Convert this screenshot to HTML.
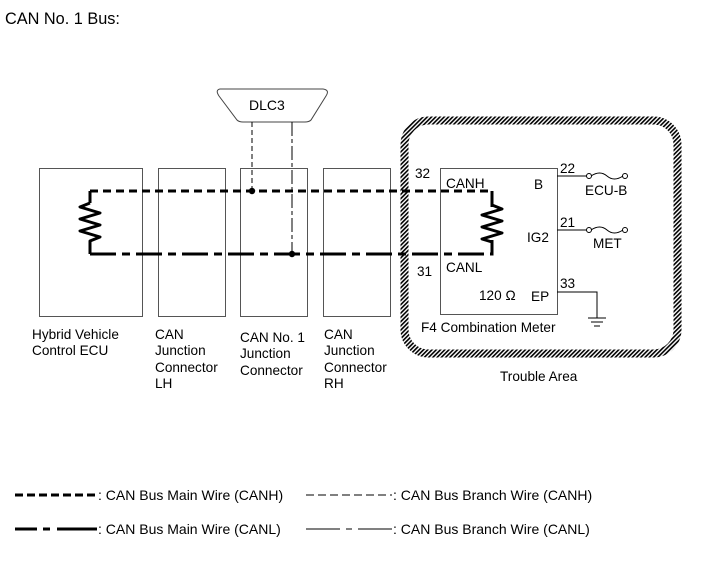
<!DOCTYPE html>
<html><head><meta charset="utf-8"><style>
html,body{margin:0;padding:0;background:#fff}
svg{display:block}
text{font-family:"Liberation Sans",Arial,sans-serif;font-size:13.6px;fill:#000}
</style></head><body>
<svg width="713" height="581" viewBox="0 0 713 581" xmlns="http://www.w3.org/2000/svg">
<defs>
<pattern id="h" width="3" height="3" patternUnits="userSpaceOnUse" patternTransform="rotate(45)">
<rect width="3" height="3" fill="#fff"/><rect width="1.6" height="3" fill="#000"/>
</pattern>
</defs>
<text x="5" y="24" style="font-size:16.3px">CAN No. 1 Bus:</text>

<path d="M220,89 L323,89 Q330,90 326,96 L311,120 Q309,122 305,122 L243,122 Q239,122 237,120 L219,96 Q215,90 220,89 Z" fill="#fff" stroke="#444" stroke-width="1"/>
<text x="249" y="110" style="font-size:14px">DLC3</text>

<g fill="none" stroke="#555" stroke-width="1">
<rect x="39.5" y="168.5" width="103" height="148"/>
<rect x="158.5" y="168.5" width="67" height="148"/>
<rect x="240.5" y="168.5" width="67" height="148"/>
<rect x="323.5" y="168.5" width="67" height="148"/>
<rect x="440.5" y="168.5" width="117" height="146"/>
</g>

<rect x="404.5" y="120.5" width="273" height="233" rx="24" fill="none" stroke="url(#h)" stroke-width="8"/>

<line x1="252" y1="122" x2="252" y2="191" stroke="#000" stroke-width="1" stroke-dasharray="5,3"/>
<line x1="292" y1="122" x2="292" y2="254" stroke="#000" stroke-width="1" stroke-dasharray="14,3,4,3"/>

<path d="M90,191 L492,191 L492,207" fill="none" stroke="#000" stroke-width="3" stroke-dasharray="8,5"/>
<path d="M90,254 L492,254 L492,240" fill="none" stroke="#000" stroke-width="3" stroke-dasharray="26,6,8,6"/>
<path d="M90,191 V203 M90,245 V254 M90,254 H100 M492,191 V205 M492,240 V254" stroke="#000" stroke-width="3" fill="none"/>
<path d="M90,203 L80,207 L100,213 L80,219 L100,225 L80,231 L100,237 L90,241 V245" fill="none" stroke="#000" stroke-width="3" stroke-linejoin="round"/>
<path d="M492,205 L502,209 L482,215 L502,221 L482,227 L502,233 L482,239 L492,242" fill="none" stroke="#000" stroke-width="3" stroke-linejoin="round"/>
<circle cx="252" cy="191" r="3.2" fill="#000"/>
<circle cx="292" cy="254" r="3.2" fill="#000"/>

<g stroke="#000" stroke-width="1" fill="none">
<line x1="557" y1="176" x2="587" y2="176"/>
<line x1="557" y1="230" x2="587" y2="230"/>
<circle cx="589" cy="176" r="2.5" fill="#fff"/><circle cx="625" cy="176" r="2.5" fill="#fff"/>
<path d="M591,176 Q600,170 607,176 Q614,182 623,176"/>
<circle cx="589" cy="230" r="2.5" fill="#fff"/><circle cx="625" cy="230" r="2.5" fill="#fff"/>
<path d="M591,230 Q600,224 607,230 Q614,236 623,230"/>
<path d="M557,292 H597 V318"/>
<line x1="588" y1="318" x2="606" y2="318"/>
<line x1="591" y1="322" x2="603" y2="322"/>
<line x1="594" y1="326" x2="600" y2="326"/>
</g>

<text x="415" y="178">32</text>
<text x="446" y="188">CANH</text>
<text x="534" y="189">B</text>
<text x="560" y="173">22</text>
<text x="585" y="195">ECU-B</text>
<text x="560" y="227">21</text>
<text x="527" y="242">IG2</text>
<text x="593" y="248">MET</text>
<text x="417" y="276">31</text>
<text x="446" y="272">CANL</text>
<text x="560" y="288">33</text>
<text x="479" y="300">120 Ω</text>
<text x="531" y="301">EP</text>
<text x="421" y="332">F4  Combination Meter</text>
<text x="500" y="381">Trouble Area</text>

<text x="32" y="339">Hybrid Vehicle</text>
<text x="32" y="355">Control ECU</text>
<text x="155" y="339">CAN</text>
<text x="155" y="355">Junction</text>
<text x="155" y="372">Connector</text>
<text x="155" y="388">LH</text>
<text x="240" y="342">CAN No. 1</text>
<text x="240" y="358">Junction</text>
<text x="240" y="375">Connector</text>
<text x="324" y="339">CAN</text>
<text x="324" y="355">Junction</text>
<text x="324" y="372">Connector</text>
<text x="324" y="388">RH</text>

<line x1="15" y1="495" x2="97" y2="495" stroke="#000" stroke-width="3" stroke-dasharray="8,4"/>
<text x="98" y="500" style="font-size:14px">: CAN Bus Main Wire (CANH)</text>
<line x1="306" y1="495" x2="392" y2="495" stroke="#000" stroke-width="1" stroke-dasharray="8,4"/>
<text x="393" y="500" style="font-size:14px">: CAN Bus Branch Wire (CANH)</text>
<path d="M15,529 H37 M43,529 H50 M57,529 H97" stroke="#000" stroke-width="3"/>
<text x="98" y="534" style="font-size:14px">: CAN Bus Main Wire (CANL)</text>
<path d="M306,529 H340 M346,529 H352 M358,529 H392" stroke="#000" stroke-width="1"/>
<text x="393" y="534" style="font-size:14px">: CAN Bus Branch Wire (CANL)</text>
</svg>
</body></html>
